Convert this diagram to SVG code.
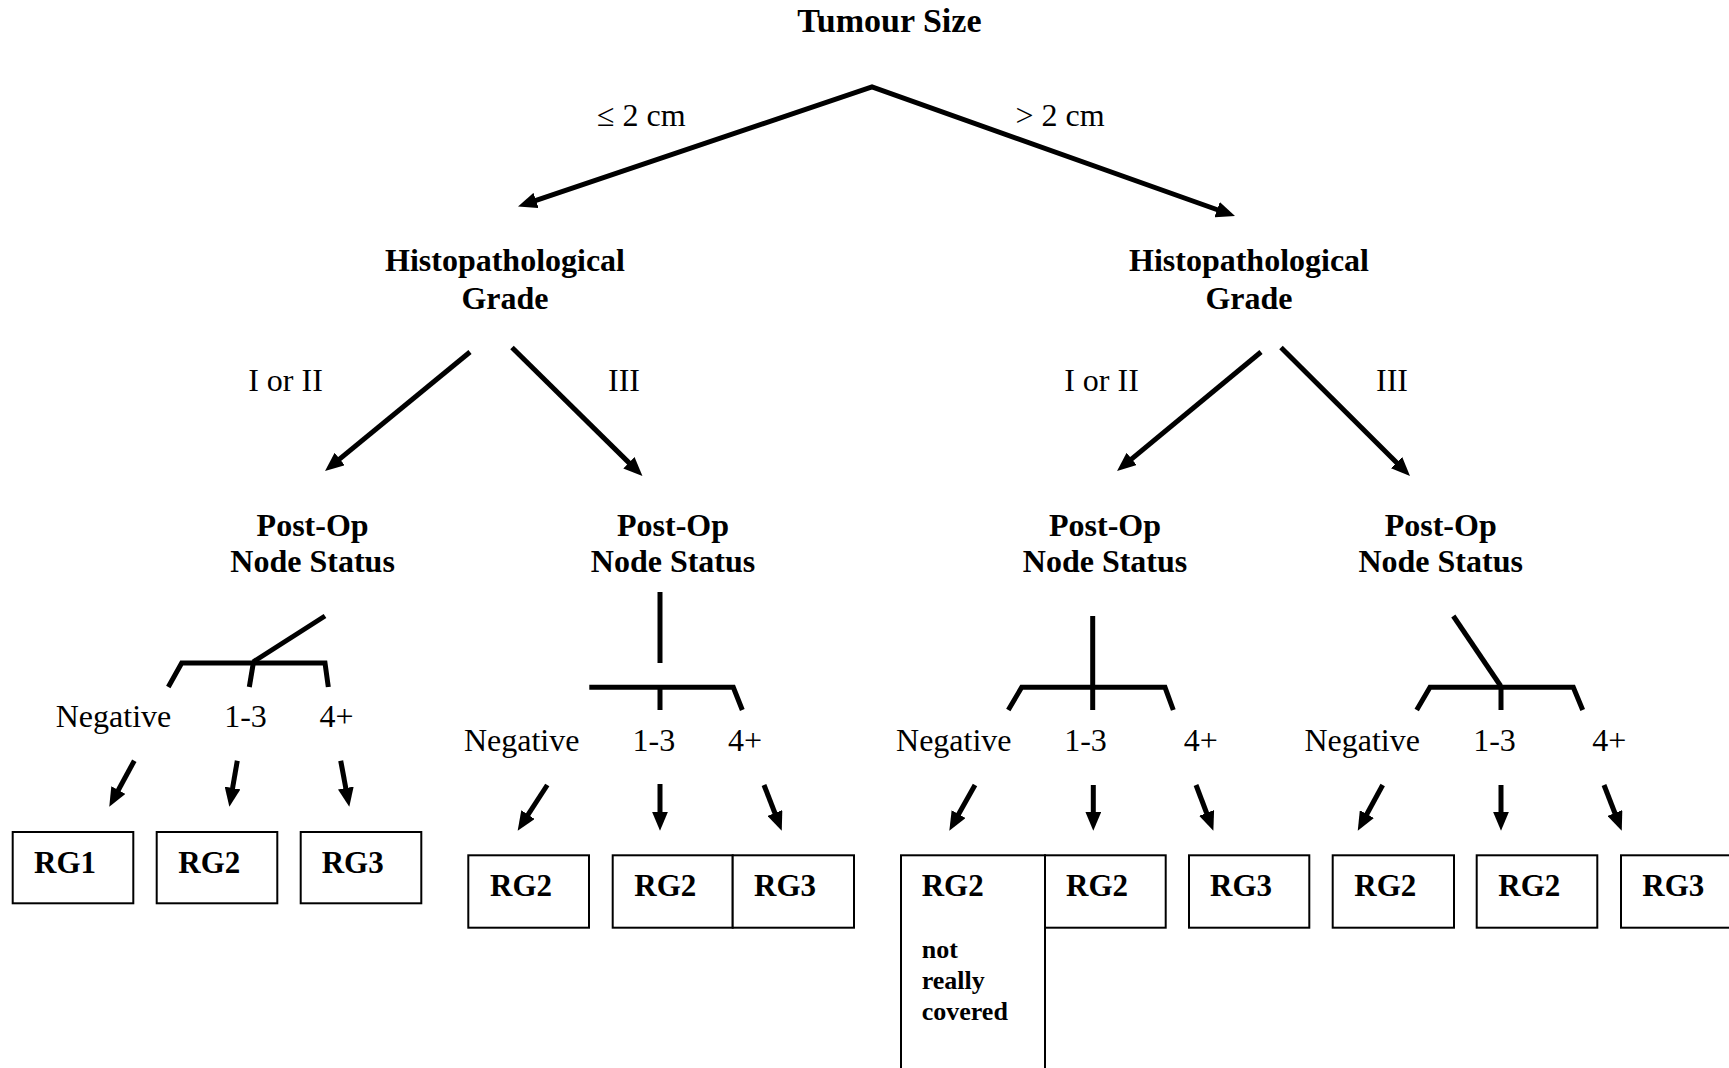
<svg xmlns="http://www.w3.org/2000/svg" width="1729" height="1068" viewBox="0 0 1729 1068">
<style>
  .bg { fill: #ffffff; }
  .h { font-family: "Liberation Serif", "Times New Roman", serif; font-weight: bold; font-size: 32px; fill: #000; text-anchor: middle; }
  .lbl { font-family: "Liberation Serif", "Times New Roman", serif; font-size: 32px; fill: #000; }
  .mid { text-anchor: middle; }
  .rg { font-family: "Liberation Serif", "Times New Roman", serif; font-weight: bold; font-size: 31px; fill: #000; }
  .note { font-family: "Liberation Serif", "Times New Roman", serif; font-weight: bold; font-size: 26px; fill: #000; }
  .box { fill: #fff; stroke: #000; stroke-width: 2; }
  .ln { fill: none; stroke: #000; stroke-width: 5; stroke-linejoin: miter; }
  .ar { fill: none; stroke: #000; stroke-width: 5; marker-end: url(#ah); }
</style>
<defs>
  <marker id="ah" markerWidth="19" markerHeight="16" refX="7" refY="8" orient="auto-start-reverse" markerUnits="userSpaceOnUse">
    <path d="M0,0 L19,8 L0,16 z" fill="#000"/>
  </marker>
</defs>
<rect class="bg" x="0" y="0" width="1729" height="1068"/>

<g id="connectors">
  <path class="ln" d="M529.4,202.7 L872,87 L1223.7,212" marker-start="url(#ah)" marker-end="url(#ah)"/>
  <line class="ar" x1="470" y1="352" x2="334.3" y2="463.4"/>
  <line class="ar" x1="512" y1="347.5" x2="633.9" y2="467.6"/>
  <line class="ar" x1="1261" y1="352" x2="1126.3" y2="463.4"/>
  <line class="ar" x1="1281" y1="347.5" x2="1401.5" y2="467.5"/>

  <!-- cluster 1 bracket -->
  <line class="ln" x1="325" y1="616" x2="253" y2="662"/>
  <polyline class="ln" points="168.3,687 181.7,663 325,663 328.3,687"/>
  <line class="ln" x1="253.3" y1="663" x2="249.3" y2="687"/>
  <!-- cluster 2 bracket -->
  <line class="ln" x1="660" y1="592" x2="660" y2="663"/>
  <polyline class="ln" points="589.3,687.3 733.3,687.3 742.3,710"/>
  <line class="ln" x1="660" y1="687.3" x2="660" y2="710"/>
  <!-- cluster 3 bracket -->
  <line class="ln" x1="1092.7" y1="616" x2="1092.7" y2="710"/>
  <polyline class="ln" points="1008.3,710 1021.7,687.3 1165,687.3 1173.3,710"/>
  <!-- cluster 4 bracket -->
  <line class="ln" x1="1453.3" y1="616" x2="1500.7" y2="686"/>
  <polyline class="ln" points="1416.7,710 1430,687.3 1573.3,687.3 1582.7,710"/>
  <line class="ln" x1="1501" y1="687.3" x2="1501" y2="710"/>

  <!-- small arrows -->
  <line class="ar" x1="134.3" y1="760.7" x2="115" y2="796.2"/>
  <line class="ar" x1="237.3" y1="760.7" x2="231.4" y2="794.9"/>
  <line class="ar" x1="340.7" y1="760.7" x2="347.1" y2="794.9"/>

  <line class="ar" x1="547.3" y1="785" x2="524.2" y2="820.6"/>
  <line class="ar" x1="660" y1="784" x2="660" y2="818.7"/>
  <line class="ar" x1="764" y1="785" x2="777.4" y2="819.5"/>

  <line class="ar" x1="975" y1="785" x2="955.2" y2="820.2"/>
  <line class="ar" x1="1093.3" y1="785" x2="1093.3" y2="818.7"/>
  <line class="ar" x1="1196" y1="785" x2="1209.1" y2="819.5"/>

  <line class="ar" x1="1382.7" y1="785" x2="1363.5" y2="820.2"/>
  <line class="ar" x1="1501" y1="785" x2="1501" y2="818.7"/>
  <line class="ar" x1="1604" y1="785" x2="1617.4" y2="819.5"/>
</g>

<g id="edge-labels">
  <text class="lbl" x="597" y="126">≤ 2 cm</text>
  <text class="lbl" x="1015.5" y="126">&gt; 2 cm</text>
  <text class="lbl mid" x="285.5" y="391">I or II</text>
  <text class="lbl mid" x="624" y="391">III</text>
  <text class="lbl mid" x="1101.5" y="391">I or II</text>
  <text class="lbl mid" x="1392" y="391">III</text>

  <text class="lbl mid" x="113.5" y="727">Negative</text>
  <text class="lbl mid" x="245.5" y="727">1-3</text>
  <text class="lbl mid" x="336.5" y="727">4+</text>

  <text class="lbl mid" x="521.7" y="750.7">Negative</text>
  <text class="lbl mid" x="653.8" y="750.7">1-3</text>
  <text class="lbl mid" x="745" y="750.7">4+</text>

  <text class="lbl mid" x="953.8" y="750.7">Negative</text>
  <text class="lbl mid" x="1085.5" y="750.7">1-3</text>
  <text class="lbl mid" x="1200.7" y="750.7">4+</text>

  <text class="lbl mid" x="1362.2" y="750.7">Negative</text>
  <text class="lbl mid" x="1494.5" y="750.7">1-3</text>
  <text class="lbl mid" x="1609.3" y="750.7">4+</text>
</g>

<g id="tumour-size"><text class="h" x="889.4" y="32" style="font-size:34px">Tumour Size</text></g>
<g id="grade-left"><text class="h" x="505" y="271">Histopathological</text><text class="h" x="505" y="308.5">Grade</text></g>
<g id="grade-right"><text class="h" x="1249" y="271">Histopathological</text><text class="h" x="1249" y="308.5">Grade</text></g>
<g id="status-1"><text class="h" x="312.6" y="535.5">Post-Op</text><text class="h" x="312.6" y="572">Node Status</text></g>
<g id="status-2"><text class="h" x="673" y="535.5">Post-Op</text><text class="h" x="673" y="572">Node Status</text></g>
<g id="status-3"><text class="h" x="1105" y="535.5">Post-Op</text><text class="h" x="1105" y="572">Node Status</text></g>
<g id="status-4"><text class="h" x="1440.7" y="535.5">Post-Op</text><text class="h" x="1440.7" y="572">Node Status</text></g>

<g id="rg-1a"><rect class="box" x="12.7" y="832" width="120.6" height="71.3"/><text class="rg" x="34" y="873">RG1</text></g>
<g id="rg-1b"><rect class="box" x="156.7" y="832" width="120.6" height="71.3"/><text class="rg" x="178.3" y="873">RG2</text></g>
<g id="rg-1c"><rect class="box" x="300.7" y="832" width="120.6" height="71.3"/><text class="rg" x="321.7" y="873">RG3</text></g>

<g id="rg-2a"><rect class="box" x="468.3" y="855.3" width="120.7" height="72.4"/><text class="rg" x="490" y="896">RG2</text></g>
<g id="rg-2b"><rect class="box" x="612.7" y="855.3" width="120" height="72.4"/><text class="rg" x="634.3" y="896">RG2</text></g>
<g id="rg-2c"><rect class="box" x="732.7" y="855.3" width="121.3" height="72.4"/><text class="rg" x="754" y="896">RG3</text></g>

<g id="rg-3a"><rect class="box" x="901" y="855.3" width="144" height="240"/><text class="rg" x="921.7" y="896">RG2</text><text class="note" x="921.7" y="958">not</text><text class="note" x="921.7" y="989">really</text><text class="note" x="921.7" y="1020">covered</text></g>
<g id="rg-3b"><rect class="box" x="1045" y="855.3" width="120.7" height="72.4"/><text class="rg" x="1066" y="896">RG2</text></g>
<g id="rg-3c"><rect class="box" x="1189" y="855.3" width="120.3" height="72.4"/><text class="rg" x="1210" y="896">RG3</text></g>

<g id="rg-4a"><rect class="box" x="1332.7" y="855.3" width="121.3" height="72.4"/><text class="rg" x="1354.3" y="896">RG2</text></g>
<g id="rg-4b"><rect class="box" x="1476.7" y="855.3" width="120.6" height="72.4"/><text class="rg" x="1498.3" y="896">RG2</text></g>
<g id="rg-4c"><rect class="box" x="1621" y="855.3" width="121" height="72.4"/><text class="rg" x="1642.3" y="896">RG3</text></g>
</svg>
